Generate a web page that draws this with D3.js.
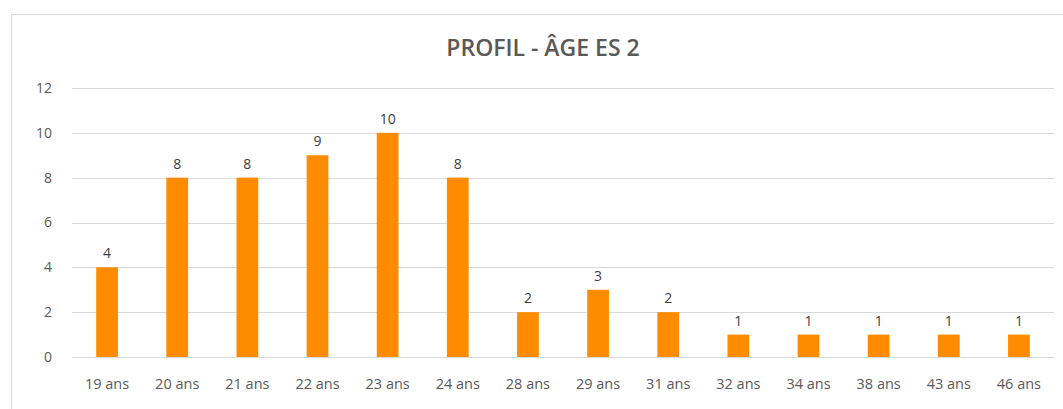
<!DOCTYPE html>
<html>
<head>
<meta charset="utf-8">
<script src="https://cdn.jsdelivr.net/npm/d3@7"></script>
<style>
  body { margin: 0; background: #fff; }
</style>
</head>
<body>
<div id="chart"></div>
<script>
// data
const categories = ['19 ans', '20 ans', '21 ans', '22 ans', '23 ans', '24 ans', '28 ans',
    '29 ans', '31 ans', '32 ans', '34 ans', '38 ans', '43 ans', '46 ans'];
const counts = [4, 8, 8, 9, 10, 8, 2, 3, 2, 1, 1, 1, 1, 1];
const yTicks = [0, 2, 4, 6, 8, 10, 12];
const title = 'PROFIL - ÂGE ES 2';

const barColor = '#ff8c00',
    gridColor = '#d9d9d9',
    textColor = '#595959',
    fontFamily = 'Open Sans, sans-serif';

const width = 1063, height = 409;
const margin = { top: 88, right: 9, bottom: 52, left: 72 };

const svg = d3.select('#chart')
    .append('svg')
    .attr('width', width)
    .attr('height', height);

// chart frame
svg.append('rect')
    .attr('x', 11.5).attr('y', 14.5)
    .attr('width', 1070).attr('height', 420)
    .attr('fill', 'none')
    .attr('stroke', '#d9d9d9');

const data = categories.map((c, i) => ({ key: c, value: counts[i] }));

const x = d3.scaleBand()
    .domain(categories)
    .range([margin.left, width - margin.right])
    .paddingInner(0.69)
    .paddingOuter(0.345);

const y = d3.scaleLinear()
    .domain([0, 12])
    .range([height - margin.bottom, margin.top]);

// gridlines
svg.append('g')
    .selectAll('line')
    .data(yTicks)
    .enter()
    .append('line')
    .attr('x1', margin.left)
    .attr('x2', width - margin.right)
    .attr('y1', d => Math.round(y(d)) + 0.5)
    .attr('y2', d => Math.round(y(d)) + 0.5)
    .attr('stroke', gridColor)
    .attr('stroke-width', 1.2);

// y axis labels
const yAxis = svg.append('g')
    .attr('transform', 'translate(' + margin.left + ',0)')
    .call(d3.axisLeft(y).tickValues(yTicks).tickSize(0).tickPadding(20));
yAxis.select('.domain').remove();
yAxis.selectAll('text')
    .style('font-size', '14px')
    .style('font-weight', '500')
    .style('font-family', fontFamily)
    .attr('fill', textColor);

// x axis labels
const xAxis = svg.append('g')
    .attr('transform', 'translate(0,' + (height - margin.bottom) + ')')
    .call(d3.axisBottom(x).tickSize(0).tickPadding(22));
xAxis.select('.domain').remove();
xAxis.selectAll('text')
    .style('font-size', '14.5px')
    .style('font-weight', '500')
    .style('font-family', fontFamily)
    .attr('fill', textColor);

// bars
svg.append('g')
    .selectAll('rect')
    .data(data)
    .enter()
    .append('rect')
    .attr('fill', barColor)
    .attr('x', d => x(d.key))
    .attr('y', d => y(d.value))
    .attr('width', x.bandwidth())
    .attr('height', d => y(0) - y(d.value));

// value labels
svg.append('g')
    .selectAll('text')
    .data(data)
    .enter()
    .append('text')
    .attr('x', d => x(d.key) + x.bandwidth() / 2)
    .attr('y', d => y(d.value) - 9)
    .attr('text-anchor', 'middle')
    .style('font-size', '14px')
    .style('font-weight', '500')
    .style('font-family', fontFamily)
    .attr('fill', '#404040')
    .text(d => d.value);

// title
svg.append('text')
    .attr('x', 543)
    .attr('y', 56)
    .attr('text-anchor', 'middle')
    .style('font-size', '23px')
    .style('font-weight', '600')
    .style('font-family', fontFamily)
    .attr('fill', textColor)
    .text(title);
</script>
</body>
</html>
